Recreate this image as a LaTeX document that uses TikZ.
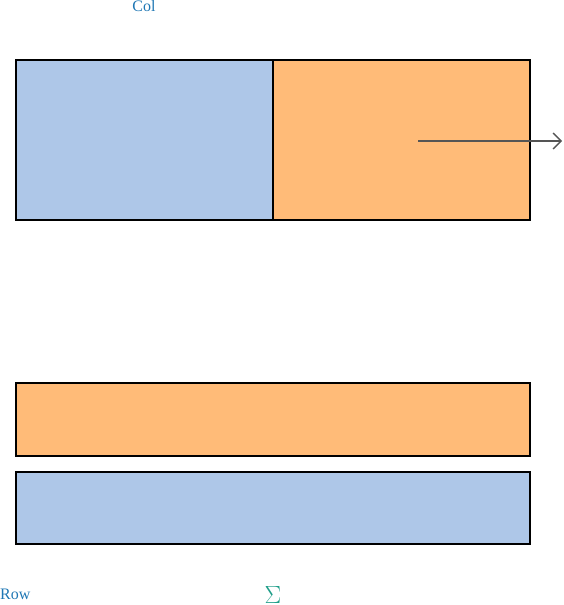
\documentclass[tikz,border=0pt]{standalone}
\usepackage{fontspec}
\setmainfont{Liberation Serif}
\usetikzlibrary{arrows.meta}
\definecolor{cblue}{HTML}{AEC7E8}
\definecolor{corange}{HTML}{FFBB78}
\definecolor{tblue}{HTML}{1F77B4}
\definecolor{tteal}{HTML}{1F9E89}
\definecolor{agray}{HTML}{555555}
\tikzset{
  cell/.style={draw=black, line width=1.4pt, inner sep=0pt, outer sep=0pt, anchor=north west},
  lbl/.style={font=\fontsize{16}{18}\selectfont, inner sep=0pt},
  arr/.style={draw=agray, line width=1.3pt, -{Straight Barb[length=8pt,width=16pt,line width=1.3pt]}}
}
\begin{document}
\begin{tikzpicture}[x=1pt,y=-1pt]
\useasboundingbox (0,0) rectangle (563,605);
\node[cell, fill=cblue, minimum width=257pt, minimum height=160pt] (a) at (16,60) {};
\node[cell, fill=corange, minimum width=257pt, minimum height=160pt] (b) at (273,60) {};
\node[cell, fill=corange, minimum width=514pt, minimum height=73pt] (c) at (16,383) {};
\node[cell, fill=cblue, minimum width=514pt, minimum height=72pt] (d) at (16,472) {};
\coordinate (s) at (418,141);
\coordinate (e) at (562,141);
\draw[arr] (s) -- (e);
\node[lbl, text=tblue] (col) at (144,6) {Col};
\node[lbl, text=tblue, anchor=west] (row) at (0,594) {Row};
\node[lbl, text=tteal, font=\fontsize{24}{26}\selectfont] (sum) at (273,595) {$\Sigma$};
\end{tikzpicture}
\end{document}
